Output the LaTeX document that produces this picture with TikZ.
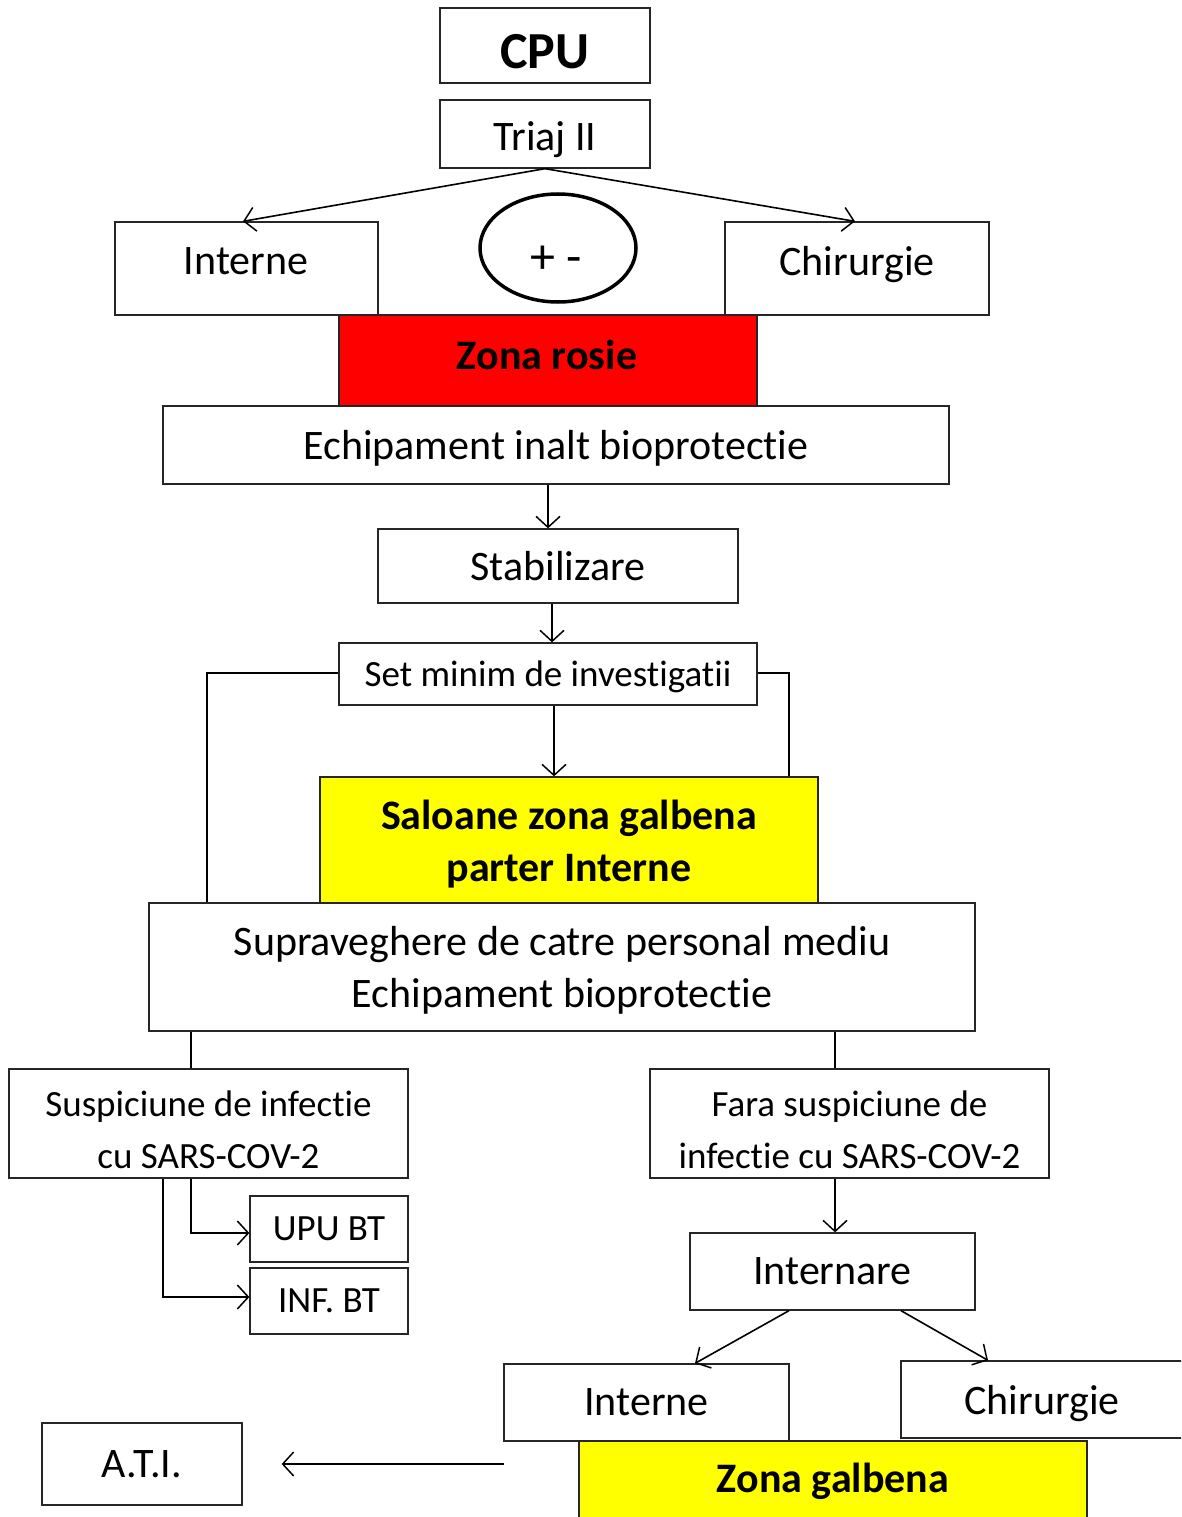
\documentclass[tikz,border=0pt]{standalone}
\usepackage{fontspec}
\setmainfont{Carlito}[Ligatures={NoCommon,NoContextual,NoRare},Contextuals=NoAlternate]
\usetikzlibrary{shapes.geometric,arrows.meta}
\newcommand\fsL{\fontsize{42}{52}\selectfont}
\newcommand\fsM{\fontsize{37}{52}\selectfont}
\newcommand\fsX{\fontsize{52}{60}\selectfont\bfseries}
\definecolor{zred}{HTML}{FF0000}
\definecolor{zyel}{HTML}{FFFF00}
\tikzset{
  box/.style={draw=black!85, line width=1.3pt, inner sep=0pt, align=center, font=\fsL},
  boxm/.style={box, font=\fsM},
  one/.style={text depth=0pt},
  txt/.style={inner sep=0pt, align=center, font=\fsL},
  txtm/.style={txt, font=\fsM},
  conn/.style={line width=1.6pt, draw=black},
  arr/.style={conn, -{Straight Barb[length=11pt,width=24pt,line width=1.5pt]}},
}
\begin{document}
\begin{tikzpicture}[x=1pt,y=-1pt]
\path[use as bounding box] (0,0) rectangle (1181,1517);
\clip (0,0) rectangle (1181,1517);
% top
\node[box, one, text height=47pt, font=\fsX, minimum width=210, minimum height=75] (cpu) at (545,45.5) {CPU};
\node[box, one, text height=33pt, minimum width=210, minimum height=68] (triaj) at (545,134) {Triaj II};
\node[box, minimum width=263, minimum height=93] (intA) at (246.5,268.5) {};
\node[txt, one] (intAtext) at (246,261) {Interne};
\node[box, minimum width=264, minimum height=93] (chirA) at (857,268.5) {};
\node[txt, one] (chirAtext) at (857,261) {Chirurgie};
\node[ellipse, draw=black, line width=3.5pt, minimum width=156, minimum height=108, inner sep=0pt] (pm) at (558,248) {};
\node[txt, font=\fontsize{50}{60}\selectfont] (pmtext) at (556,260) {+ -};
\node[box, fill=zred, minimum width=418, minimum height=91] (rosie) at (548,360.5) {};
\node[txt, font=\fsL\bfseries, one] (rosietext) at (547,355) {Zona rosie};
\node[box, one, minimum width=786, minimum height=78] (echip) at (556,445) {Echipament inalt bioprotectie};
\node[box, one, minimum width=360, minimum height=74] (stab) at (558,566) {Stabilizare};
\node[boxm, one, minimum width=418, minimum height=62] (setmin) at (548,674) {Set minim de investigatii};
\node[box, fill=zyel, minimum width=498, minimum height=126] (salo) at (569,840) {};
\node[txt, font=\fsL\bfseries] (salotext) at (569,844) {Saloane zona galbena\\parter Interne};
\node[box, minimum width=826, minimum height=128] (superv) at (562,967) {};
\node[txt] (supervtext) at (562,970) {Supraveghere de catre personal mediu\\Echipament bioprotectie};
\node[box, minimum width=399, minimum height=109] (susp) at (208.5,1123.5) {};
\node[txtm] (susptext) at (208.5,1129.5) {Suspiciune de infectie\\cu SARS-COV-2};
\node[box, minimum width=399, minimum height=109] (fara) at (849.5,1123.5) {};
\node[txtm] (faratext) at (849.5,1129.5) {Fara suspiciune de\\infectie cu SARS-COV-2};
\node[boxm, one, minimum width=158, minimum height=66] (upu) at (329,1229) {UPU BT};
\node[boxm, one, minimum width=158, minimum height=66] (inf) at (329,1301) {INF. BT};
\node[box, one, minimum width=285, minimum height=77] (intern) at (832.5,1271.5) {Internare};
\node[box, one, minimum width=285, minimum height=77] (intB) at (646.5,1402.5) {Interne};
\node[box, one, minimum width=282, minimum height=77] (chirB) at (1042,1399.5) {Chirurgie};
\node[box, fill=zyel, minimum width=508, minimum height=98] (galb) at (833,1490) {};
\node[txt, font=\fsL\bfseries, one] (galbtext) at (833,1478) {Zona galbena};
\node[box, one, minimum width=200, minimum height=82] (ati) at (142,1464) {A.T.I.};
% connectors
\draw[arr] (triaj.south) -- ([xshift=-3.5pt]intA.north);
\draw[arr] (triaj.south) -- ([xshift=-2pt]chirA.north);
\draw[arr] ([xshift=-8pt]echip.south) -- ([xshift=-8pt]echip.south |- stab.north);
\draw[arr] ([xshift=-6pt]stab.south) -- ([xshift=-6pt]stab.south |- setmin.north);
\draw[arr] ([xshift=6pt]setmin.south) -- ([xshift=6pt]setmin.south |- salo.north);
\draw[conn] ([yshift=1pt]setmin.west) -| ([xshift=-355pt]superv.north);
\draw[conn] ([yshift=1pt]setmin.east) -| ([xshift=220pt]salo.north);
\draw[conn] ([xshift=-17.5pt]susp.north) -- ([xshift=-17.5pt]susp.north |- superv.south);
\draw[conn] ([xshift=-14.5pt]fara.north) -- ([xshift=-14.5pt]fara.north |- superv.south);
\draw[arr] ([xshift=-17.5pt]susp.south) |- ([yshift=-4pt]upu.west);
\draw[arr] ([xshift=-45.5pt]susp.south) |- ([yshift=4pt]inf.west);
\draw[arr] ([xshift=-14.5pt]fara.south) -- ([xshift=-14.5pt]fara.south |- intern.north);
\draw[arr] ([xshift=-43.5pt]intern.south) -- ([xshift=48.5pt]intB.north);
\draw[arr] ([xshift=68.5pt]intern.south) -- ([xshift=-54pt]chirB.north);
\coordinate (atisrc) at (504,1464);
\draw[arr] (atisrc) -- ([xshift=39pt]ati.east);
\end{tikzpicture}
\end{document}
